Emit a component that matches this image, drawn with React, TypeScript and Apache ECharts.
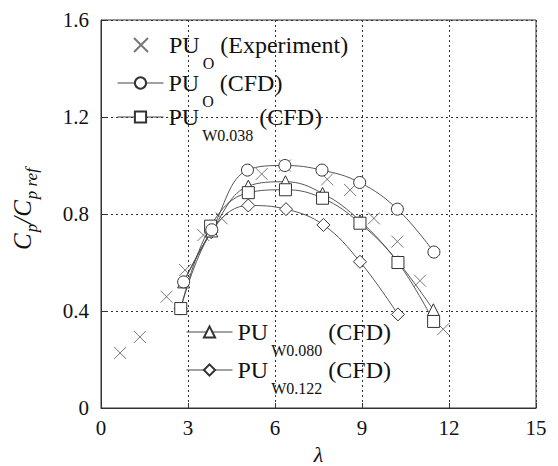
import React, { useEffect, useRef } from "react";
import * as echarts from "echarts";

// Experimental power coefficient ratio (crosses)
const expLambda = [0.66, 1.34, 2.26, 2.9, 3.53, 4.16, 5.54, 6.34, 7.8, 8.59, 9.41, 10.22, 11.0, 11.8];
const expCp = [0.227, 0.293, 0.459, 0.569, 0.713, 0.782, 0.965, 1.0, 0.943, 0.899, 0.782, 0.686, 0.525, 0.325];

// CFD results
const puOLambda = [2.85, 3.82, 5.05, 6.34, 7.62, 8.92, 10.22, 11.48];
const puOCp = [0.52, 0.735, 0.981, 1.0, 0.981, 0.93, 0.82, 0.643];

const w038Lambda = [2.75, 3.78, 5.08, 6.36, 7.64, 8.93, 10.24, 11.47];
const w038Cp = [0.41, 0.75, 0.888, 0.9, 0.865, 0.762, 0.6, 0.357];

const w080Lambda = [2.85, 3.82, 5.08, 6.36, 7.64, 8.93, 10.24, 11.46];
const w080Cp = [0.52, 0.73, 0.915, 0.933, 0.885, 0.772, 0.603, 0.405];

const w122Lambda = [2.75, 3.8, 5.08, 6.38, 7.67, 8.93, 10.24];
const w122Cp = [0.41, 0.725, 0.835, 0.82, 0.755, 0.603, 0.386];

const xTicks = [0, 3, 6, 9, 12, 15];
const yTicks = [0, 0.4, 0.8, 1.2, 1.6];

const names = {
  exp: "PU_O (Experiment)",
  o: "PU_O (CFD)",
  w038: "PU_W0.038 (CFD)",
  w080: "PU_W0.080 (CFD)",
  w122: "PU_W0.122 (CFD)",
};

const legendLabels: Record<string, string> = {
  [names.exp]: "{m0|PU}{s|O}{m| (Experiment)}",
  [names.o]: "{m|PU}{s|O}{m| (CFD)}",
  [names.w038]: "{m|PU}{s|W0.038}{m| (CFD)}",
  [names.w080]: "{m|PU}{s|W0.080}{m| (CFD)}",
  [names.w122]: "{m|PU}{s|W0.122}{m| (CFD)}",
};

const SERIF = "Liberation Serif";
const INK = "#333";
const TEXT = "#111";

const zip = (xs: number[], ys: number[]) => xs.map((x, i) => [x, ys[i]]);

const legendText = {
  fontFamily: SERIF,
  color: TEXT,
  rich: {
    m0: { fontFamily: SERIF, fontSize: 24, color: TEXT, padding: [0, 0, 0, 16] },
    m: { fontFamily: SERIF, fontSize: 24, color: TEXT },
    s: { fontFamily: SERIF, fontSize: 16, color: TEXT, padding: [36, 0, 0, 3] },
  },
};

function makeLegend(name: string, left: number, top: number, w: number, h: number) {
  return {
    data: [name],
    left,
    top,
    padding: 0,
    itemWidth: w,
    itemHeight: h,
    selectedMode: false,
    lineStyle: { width: 1, color: "#444" },
    formatter: (n: string) => legendLabels[n],
    textStyle: legendText,
  };
}

function cfdSeries(name: string, xs: number[], ys: number[], symbol: string, size: number) {
  return {
    name,
    type: "line",
    data: zip(xs, ys),
    smooth: 0.4,
    symbol,
    symbolSize: size,
    lineStyle: { color: "#444", width: 0.9 },
    itemStyle: { color: "#fff", borderColor: INK, borderWidth: 1 },
    emphasis: { disabled: true },
  };
}

export default function App() {
  const ref = useRef<HTMLDivElement>(null);

  useEffect(() => {
    if (!ref.current) return;
    document.body.style.margin = "0";
    const chart = echarts.init(ref.current, null, { renderer: "svg" });
    chart.setOption({
      animation: false,
      backgroundColor: "#fff",
      grid: {
        left: 101,
        top: 20,
        right: 22,
        bottom: 58,
        outerBoundsMode: "none",
        show: true,
        borderColor: INK,
        borderWidth: 1,
        backgroundColor: "transparent",
      },
      xAxis: {
        type: "value",
        min: xTicks[0],
        max: xTicks[xTicks.length - 1],
        interval: 3,
        name: "λ",
        nameLocation: "middle",
        nameGap: 35,
        nameTextStyle: { fontFamily: SERIF, fontStyle: "italic", fontSize: 22, color: TEXT },
        axisLine: { lineStyle: { color: INK, width: 1 } },
        axisTick: { inside: true, length: 5, lineStyle: { color: INK } },
        axisLabel: { fontFamily: SERIF, fontSize: 21, color: TEXT, margin: 9 },
        splitLine: { show: true, lineStyle: { color: INK, type: [2, 3], width: 1 } },
      },
      yAxis: {
        type: "value",
        min: yTicks[0],
        max: yTicks[yTicks.length - 1],
        interval: 0.4,
        axisLine: { show: true, lineStyle: { color: INK, width: 1 } },
        axisTick: { show: true, inside: true, length: 5, lineStyle: { color: INK } },
        axisLabel: {
          fontFamily: SERIF,
          fontSize: 21,
          color: TEXT,
          margin: 12,
          formatter: (v: number) => (v === 0 ? "0" : v.toFixed(1)),
        },
        splitLine: { show: true, lineStyle: { color: INK, type: [2, 3], width: 1 } },
      },
      legend: [
        makeLegend(names.exp, 133, 33, 14, 14),
        makeLegend(names.o, 117, 71, 46, 14),
        makeLegend(names.w038, 117, 105, 46, 14),
        makeLegend(names.w080, 186, 320, 46, 14),
        makeLegend(names.w122, 186, 358, 46, 14),
      ],
      graphic: [
        {
          type: "text",
          x: 22,
          y: 209,
          rotation: Math.PI / 2,
          style: {
            text: "{c|C}{s|p}{c|/C}{s|p ref}",
            align: "center",
            verticalAlign: "middle",
            rich: {
              c: { fontFamily: SERIF, fontStyle: "italic", fontSize: 25, fill: TEXT },
              s: { fontFamily: SERIF, fontStyle: "italic", fontSize: 17, fill: TEXT, padding: [18, 0, 0, 1] },
            },
          },
        },
      ],
      series: [
        {
          name: names.exp,
          type: "scatter",
          data: zip(expLambda, expCp),
          symbol: "path://M0,0L10,10M10,0L0,10",
          symbolSize: 12,
          itemStyle: { color: "transparent", borderColor: "#555", borderWidth: 1 },
          emphasis: { disabled: true },
          z: 3,
        },
        cfdSeries(names.w122, w122Lambda, w122Cp, "diamond", 13),
        cfdSeries(names.w080, w080Lambda, w080Cp, "triangle", 12),
        cfdSeries(names.w038, w038Lambda, w038Cp, "rect", 12),
        cfdSeries(names.o, puOLambda, puOCp, "circle", 12),
      ],
    });
    return () => chart.dispose();
  }, []);

  return <div ref={ref} style={{ width: 558, height: 466 }} />;
}
